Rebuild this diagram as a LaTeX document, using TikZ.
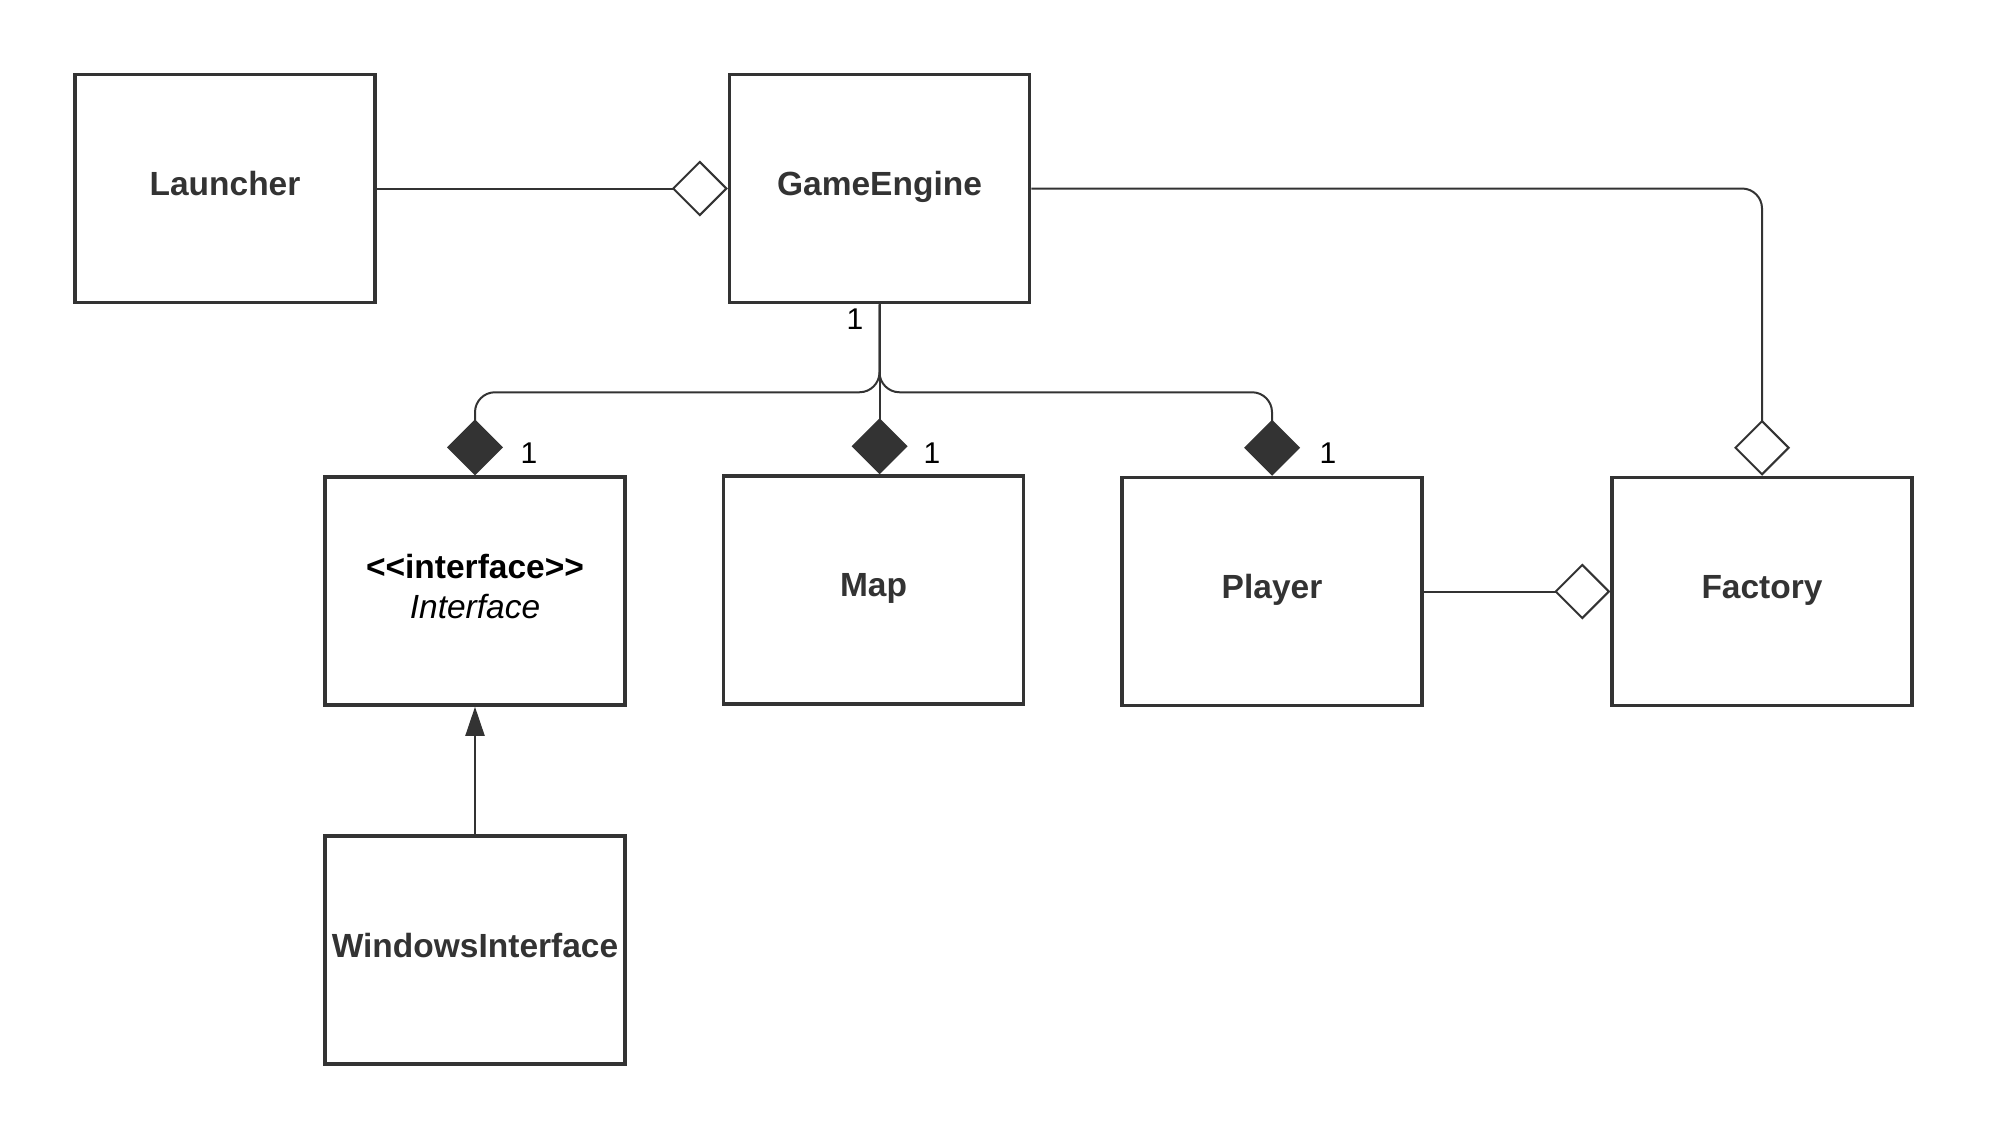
\documentclass[tikz,border=0pt]{standalone}
\usepackage{fontspec}
\setmainfont{Liberation Sans}
\usepackage{xcolor}
\usetikzlibrary{arrows.meta}
\definecolor{umlgray}{HTML}{333333}

\begin{document}
\begin{tikzpicture}[x=0.5pt,y=-0.5pt,
    classbox/.style={draw=umlgray,line width=1.75pt,minimum width=150pt,minimum height=114pt,inner sep=0pt,
      font=\fontsize{16.75}{20}\selectfont\bfseries,text=umlgray,align=center,text depth=0.47em},
    conn/.style={draw=umlgray,line width=1pt},
    aggr/.style={conn,-{Diamond[open,length=28pt,width=28pt]}},
    comp/.style={conn,-{Diamond[length=28pt,width=28pt,fill=umlgray]}},
    impl/.style={conn,-{Triangle[length=14.5pt,width=9.5pt,fill=umlgray]}},
    mult/.style={font=\fontsize{15}{18}\selectfont,text=black}]
  \useasboundingbox (0,0) rectangle (1989,1136);
  \node[classbox] (launcher) at (225,188.5) {Launcher};
  \node[classbox] (engine) at (879.5,188.5) {GameEngine};
  \node[classbox] (iface) at (475,591) {\textcolor{black}{{<}{<}interface{>}{>}}\\\textcolor{black}{\mdseries\itshape Interface}};
  \node[classbox] (map) at (873.5,590) {Map};
  \node[classbox] (player) at (1272,591.5) {Player};
  \node[classbox] (factory) at (1762,591.5) {Factory};
  \node[classbox] (winiface) at (475,950) {WindowsInterface};
  \draw [aggr] (launcher.east) -- (engine.west);
  \draw [aggr,rounded corners=10pt] (engine.east) -| (factory.north);
  \draw [comp,rounded corners=10pt] (engine.south) -- ++(0,88) -| (iface.north);
  \draw [comp] (engine.south) -- (engine.south |- map.north);
  \draw [comp,rounded corners=10pt] (engine.south) -- ++(0,88) -| (player.north);
  \draw [aggr] (player.east) -- (factory.west);
  \draw [impl] (winiface.north) -- (iface.south);
  \node[mult] (m0) at (855,319) {1};
  \node[mult] (m1) at (529,453) {1};
  \node[mult] (m2) at (932,453) {1};
  \node[mult] (m3) at (1328,453) {1};
\end{tikzpicture}
\end{document}
